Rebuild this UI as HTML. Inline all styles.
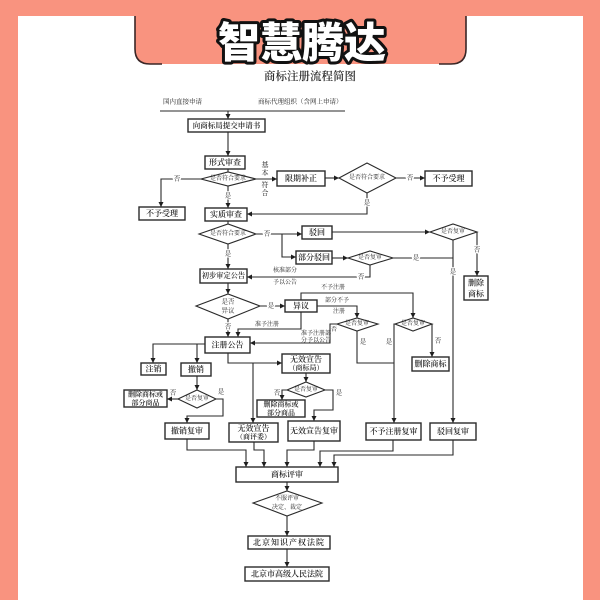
<!DOCTYPE html>
<html><head><meta charset="utf-8">
<style>
html,body{margin:0;padding:0;width:600px;height:600px;overflow:hidden;background:#F9937F}
svg{position:absolute;left:0;top:0}
.b{fill:#fff;stroke:#2a2a2a;stroke-width:1.4}
.d{fill:#fff;stroke:#2a2a2a;stroke-width:1.1}
.l{fill:none;stroke:#2a2a2a;stroke-width:1.1}
text{font-family:"Liberation Serif","Noto Serif CJK SC",serif;fill:#1e1e1e}
.t{font-size:8px;text-anchor:middle;dominant-baseline:central;font-weight:600}
.s{font-size:6px;text-anchor:middle;dominant-baseline:central}
.h{font-size:6.5px;text-anchor:middle;dominant-baseline:central;paint-order:stroke;stroke:#fff;stroke-width:2.5px}
.n{font-size:6.5px;text-anchor:middle;dominant-baseline:central}
</style></head><body>
<svg width="600" height="600" viewBox="0 0 600 600">
<defs>
<marker id="a" viewBox="0 0 10 10" refX="10" refY="5" markerWidth="5" markerHeight="5" markerUnits="userSpaceOnUse" orient="auto"><path d="M0,0 L10,5 L0,10 z" fill="#1e1e1e"/></marker>
</defs>
<rect x="18" y="16" width="565" height="584" fill="#fff"/>
<!-- tab -->
<path d="M135,10 L135,49 Q135,64 150,64 L451,64 Q466,64 466,49 L466,10 Z" fill="#F9937F"/>
<path d="M135,16 L135,49 Q135,64 150,64 L162,64" fill="none" stroke="#3a2626" stroke-width="1.6"/>
<path d="M466,16 L466,49 Q466,64 451,64 L439,64" fill="none" stroke="#3a2626" stroke-width="1.6"/>
<text x="302" y="40" text-anchor="middle" dominant-baseline="central" style="font-family:'Noto Sans CJK SC','WenQuanYi Zen Hei',sans-serif;font-weight:900;font-size:42px;fill:#fff;stroke:#111;stroke-width:6px;paint-order:stroke;stroke-linejoin:round">智慧腾达</text>

<text x="310" y="77" text-anchor="middle" dominant-baseline="central" style="font-size:11.5px;fill:#2a2a2a;font-weight:600">商标注册流程简图</text>

<text x="163" y="102" style="font-size:6.5px" dominant-baseline="central">国内直接申请</text>
<text x="258" y="102" style="font-size:6.5px" dominant-baseline="central">商标代理组织（含网上申请）</text>

<!-- connectors -->
<g class="l">
<polyline points="160,111 345,111"/>
<polyline points="228,111 228,119" marker-end="url(#a)"/>
<polyline points="228,132 228,156" marker-end="url(#a)"/>
<polyline points="228,169 228,172"/>
<polyline points="201,179 161,179 161,207" marker-end="url(#a)"/>
<polyline points="228,186 228,208" marker-end="url(#a)"/>
<polyline points="256,179 277,179" marker-end="url(#a)"/>
<polyline points="325,178 339,178" marker-end="url(#a)"/>
<polyline points="396,178 425,178" marker-end="url(#a)"/>
<polyline points="367,193 367,214 247,214" marker-end="url(#a)"/>
<polyline points="228,221 228,224"/>
<polyline points="256,234 302,234" marker-end="url(#a)"/>
<polyline points="282,234 282,257 296,257" marker-end="url(#a)"/>
<polyline points="332,232 430,232" marker-end="url(#a)"/>
<polyline points="477,232 477,276" marker-end="url(#a)"/>
<polyline points="453,240 453,423" marker-end="url(#a)"/>
<polyline points="332,258 348,258" marker-end="url(#a)"/>
<polyline points="393,258 453,258"/>
<polyline points="370,265 370,277 247,277" marker-end="url(#a)"/>
<polyline points="228,244 228,269" marker-end="url(#a)"/>
<polyline points="228,283 228,294" marker-end="url(#a)"/>
<polyline points="260,306 285,306" marker-end="url(#a)"/>
<polyline points="228,319 228,337" marker-end="url(#a)"/>
<polyline points="301,300 301,293 413,293 413,318" marker-end="url(#a)"/>
<polyline points="301,312 301,329 238,329 238,337" marker-end="url(#a)"/>
<polyline points="317,306 357,306 357,318" marker-end="url(#a)"/>
<polyline points="337,324 330,324 330,343 250,343" marker-end="url(#a)"/>
<polyline points="357,331 357,363 394,363"/>
<polyline points="395,324 394,324 394,423" marker-end="url(#a)"/>
<polyline points="432,324 432,357" marker-end="url(#a)"/>
<polyline points="205,344 153,344 153,363" marker-end="url(#a)"/>
<polyline points="197,344 197,363" marker-end="url(#a)"/>
<polyline points="228,353 228,363 282,363" marker-end="url(#a)"/>
<polyline points="253,363 253,423" marker-end="url(#a)"/>
<polyline points="197,376 197,390" marker-end="url(#a)"/>
<polyline points="178,399 167,399" marker-end="url(#a)"/>
<polyline points="216,399 223,399 223,416 187,416 187,423" marker-end="url(#a)"/>
<polyline points="306,373 306,382" marker-end="url(#a)"/>
<polyline points="287,390 282,390 282,400" marker-end="url(#a)"/>
<polyline points="325,390 333,390 333,410 314,410 314,421" marker-end="url(#a)"/>
<polyline points="187,439 187,450 246,450 246,467" marker-end="url(#a)"/>
<polyline points="254,442 254,450 264,450 264,467" marker-end="url(#a)"/>
<polyline points="314,441 314,450 287,450 287,467" marker-end="url(#a)"/>
<polyline points="393,440 393,451 320,451 320,467" marker-end="url(#a)"/>
<polyline points="453,440 453,455 334,455 334,467" marker-end="url(#a)"/>
<polyline points="287,482 287,491" marker-end="url(#a)"/>
<polyline points="287,516 287,536" marker-end="url(#a)"/>
<polyline points="287,549 287,567" marker-end="url(#a)"/>
</g>

<!-- boxes -->
<rect class="b" x="188" y="119" width="77" height="13"/><text class="t" x="226.5" y="125.5" style="font-size:7.5px">向商标局提交申请书</text>
<rect class="b" x="205" y="156" width="40" height="13"/><text class="t" x="225" y="162.5">形式审查</text>
<rect class="b" x="139" y="207" width="46" height="13"/><text class="t" x="162" y="213.5">不予受理</text>
<rect class="b" x="205" y="208" width="42" height="13"/><text class="t" x="226" y="214.5">实质审查</text>
<rect class="b" x="277" y="171" width="48" height="15"/><text class="t" x="301" y="178.5">限期补正</text>
<rect class="b" x="425" y="171" width="47" height="15"/><text class="t" x="448.5" y="178.5">不予受理</text>
<rect class="b" x="302" y="226" width="30" height="13"/><text class="t" x="317" y="232.5">驳回</text>
<rect class="b" x="296" y="251" width="36" height="13"/><text class="t" x="314" y="257.5">部分驳回</text>
<rect class="b" x="464" y="276" width="24" height="24"/><text class="t" x="476" y="283">删除</text><text class="t" x="476" y="294">商标</text>
<rect class="b" x="200" y="269" width="47" height="14"/><text class="t" x="223.5" y="276" style="font-size:7.2px">初步审定公告</text>
<rect class="b" x="285" y="300" width="32" height="12"/><text class="t" x="301" y="306">异议</text>
<rect class="b" x="412" y="357" width="37" height="14"/><text class="t" x="430.5" y="364">删除商标</text>
<rect class="b" x="205" y="337" width="45" height="16"/><text class="t" x="227.5" y="345">注册公告</text>
<rect class="b" x="141" y="363" width="25" height="12"/><text class="t" x="153.5" y="369">注销</text>
<rect class="b" x="181" y="363" width="30" height="13"/><text class="t" x="196" y="369.5">撤销</text>
<rect class="b" x="282" y="354" width="48" height="19"/><text class="t" x="306" y="359.5">无效宣告</text><text class="t" x="306" y="368" style="font-size:7px">（商标局）</text>
<rect class="b" x="124" y="390" width="43" height="17"/><text class="t" x="145.5" y="394.5" style="font-size:7px">删除商标或</text><text class="t" x="145.5" y="403" style="font-size:7px">部分商品</text>
<rect class="b" x="257" y="400" width="48" height="17"/><text class="t" x="281" y="404.5" style="font-size:7px">删除商标或</text><text class="t" x="281" y="413" style="font-size:7px">部分商品</text>
<rect class="b" x="165" y="423" width="44" height="16"/><text class="t" x="187" y="431">撤销复审</text>
<rect class="b" x="229" y="423" width="49" height="19"/><text class="t" x="253.5" y="428.5">无效宣告</text><text class="t" x="253.5" y="437" style="font-size:7px">（商评委）</text>
<rect class="b" x="288" y="421" width="52" height="20"/><text class="t" x="314" y="431">无效宣告复审</text>
<rect class="b" x="366" y="423" width="55" height="17"/><text class="t" x="393.5" y="431.5">不予注册复审</text>
<rect class="b" x="430" y="423" width="46" height="17"/><text class="t" x="453" y="431.5">驳回复审</text>
<rect class="b" x="236" y="467" width="102" height="15"/><text class="t" x="287" y="474.5">商标评审</text>
<rect class="b" x="248" y="536" width="82" height="13"/><text class="t" x="289" y="542.5" style="letter-spacing:1px">北京知识产权法院</text>
<rect class="b" x="245" y="567" width="84" height="14"/><text class="t" x="287" y="574">北京市高级人民法院</text>

<!-- diamonds -->
<polygon class="d" points="201,179 228,172 256,179 228,186"/><text class="s" x="228" y="179">是否符合要求</text>
<polygon class="d" points="339,178 367,163 396,178 367,193"/><text class="s" x="367" y="178">是否符合要求</text>
<polygon class="d" points="199,234 228,224 256,234 228,244"/><text class="s" x="228" y="234">是否符合要求</text>
<polygon class="d" points="430,232 453,224 477,232 453,240"/><text class="s" x="453" y="232">是否复审</text>
<polygon class="d" points="348,258 370,251 393,258 370,265"/><text class="s" x="370" y="258">是否复审</text>
<polygon class="d" points="196,306 228,294 260,306 228,319"/><text class="s" x="228" y="302" style="font-size:6.5px">是否</text><text class="s" x="228" y="311" style="font-size:6.5px">异议</text>
<polygon class="d" points="337,324 357,318 378,324 357,331"/><text class="s" x="357" y="324">是否复审</text>
<polygon class="d" points="395,324 413,318 432,324 413,331"/><text class="s" x="413" y="324">是否复审</text>
<polygon class="d" points="178,399 197,390 216,399 197,408"/><text class="s" x="197" y="399">是否复审</text>
<polygon class="d" points="287,390 306,382 325,390 306,397"/><text class="s" x="306" y="390">是否复审</text>
<polygon class="d" points="253,503 287,491 322,503 287,516"/><text class="s" x="287" y="499">不服评审</text><text class="s" x="287" y="508">决定、裁定</text>

<!-- labels -->
<text class="h" x="177" y="179">否</text>
<text class="h" x="228" y="196">是</text>
<text class="n" x="265" y="165" style="font-size:7px">基</text>
<text class="n" x="265" y="173" style="font-size:7px">本</text>
<text class="n" x="265" y="185" style="font-size:7px">符</text>
<text class="n" x="265" y="193" style="font-size:7px">合</text>
<text class="h" x="410" y="178">否</text>
<text class="h" x="367" y="203">是</text>
<text class="h" x="267" y="234">否</text>
<text class="h" x="477" y="250">否</text>
<text class="h" x="453" y="272">是</text>
<text class="h" x="416" y="258">是</text>
<text class="h" x="361" y="277">否</text>
<text class="n" x="285" y="271" style="font-size:6px">核准部分</text>
<text class="n" x="285" y="283" style="font-size:6px">予以公告</text>
<text class="h" x="228" y="254">是</text>
<text class="h" x="271" y="306">是</text>
<text class="h" x="228" y="327">否</text>
<text class="n" x="333" y="288" style="font-size:6px">不予注册</text>
<text class="n" x="267" y="325" style="font-size:6px">准予注册</text>
<text class="n" x="337" y="301" style="font-size:6px">部分不予</text>
<text class="n" x="339" y="312" style="font-size:6px">注册</text>
<text class="n" x="334" y="330" style="font-size:6px">否</text>
<text class="n" x="316" y="334" style="font-size:6px">准予注册部</text>
<text class="n" x="316" y="341" style="font-size:6px">分予以公告</text>
<text class="n" x="363" y="342">是</text>
<text class="n" x="389" y="342">是</text>
<text class="n" x="438" y="341">否</text>
<text class="n" x="173" y="393">否</text>
<text class="n" x="221" y="392">是</text>
<text class="n" x="277" y="393">否</text>
<text class="n" x="339" y="393">是</text>
</svg>
</body></html>
